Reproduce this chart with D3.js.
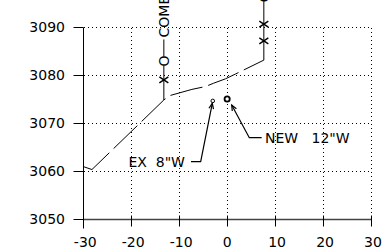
<!DOCTYPE html>
<html>
<head>
<meta charset="utf-8">
<script src="https://cdn.jsdelivr.net/npm/d3@7"></script>
<style>
  body { margin: 0; background: #fff; }
  svg { display: block; font-family: "DejaVu Sans", sans-serif; font-size: 14px; }
  .grid { stroke: #000; stroke-dasharray: 1,3; shape-rendering: crispEdges; }
</style>
</head>
<body>
<div id="chart"></div>
<script>
// Axis ticks
const xTicks = [-30, -20, -10, 0, 10, 20, 30];
const yTicks = [3050, 3060, 3070, 3080, 3090];

// Dashed profile line
const profileX = [-29.94, -28.2, -13.2, -12.0, -7.35, -4.5, -2.8, -0.35, 1.73, 7.65];
const profileY = [3060.9, 3060.3, 3074.8, 3075.7, 3077.0, 3077.6, 3078.3, 3079.2, 3080.2, 3083.1];

// Vertical leaders rising from the profile
const leaderX = [-13.2, 7.65];
const leaderFrom = [3074.8, 3083.1];
const leaderTo = [3087.4, 3097];
const leaderRing = [3082.9, 3096.3];   // "O" on each leader
const leaderText = ["COMBO", ""];

// x markers on the leaders
const markX = [-13.2, 7.65, 7.65];
const markY = [3079.0, 3087.1, 3090.6];

// Circled points with labels
const pointX = [-3.0, 0.0];
const pointY = [3074.6, 3075.0];
const pointR = [1.8, 2.6];
const pointLabel = ["EX  8\"W", "NEW   12\"W"];
const labelX = [-8.8, 7.9];
const labelY = [3061.94, 3066.94];
const elbowX = [-5.52, 4.62];
const startX = [-7.54, 7.2];
const tipX = [-3.1, 0.95];
const tipY = [3074.1, 3073.75];

const W = 384, H = 248;
const svg = d3.select("#chart").append("svg")
    .attr("width", W)
    .attr("height", H);

const x = d3.scaleLinear().domain([-30, 30]).range([83.3, 371]);
const y = d3.scaleLinear().domain([3050, 3090]).range([219, 27]);
const px = v => Math.round(x(v)) + 0.5;
const py = v => Math.round(y(v)) + 0.5;

// Grid (dotted)
svg.selectAll(".vgrid")
    .data(xTicks.slice(1))
    .enter().append("line")
    .attr("class", "grid")
    .attr("x1", d => px(d)).attr("x2", d => px(d))
    .attr("y1", py(3090)).attr("y2", py(3050));
svg.selectAll(".hgrid")
    .data(yTicks.slice(1))
    .enter().append("line")
    .attr("class", "grid")
    .attr("x1", px(-30)).attr("x2", px(30))
    .attr("y1", d => py(d)).attr("y2", d => py(d));

// Bottom axis
svg.append("line")
    .attr("x1", px(-30)).attr("x2", px(30))
    .attr("y1", py(3050)).attr("y2", py(3050))
    .attr("stroke", "#444").attr("stroke-width", 1.3);
svg.selectAll(".xtick")
    .data(xTicks)
    .enter().append("line")
    .attr("x1", d => px(d)).attr("x2", d => px(d))
    .attr("y1", py(3050) - 4).attr("y2", py(3050) + 7)
    .attr("stroke", "#000");
svg.selectAll(".xlab")
    .data(xTicks)
    .enter().append("text")
    .attr("x", d => x(d) + (d === 0 ? 0 : 2))
    .attr("y", 247)
    .attr("text-anchor", "middle")
    .text(d => String(d));

// Left axis
svg.append("line")
    .attr("x1", px(-30)).attr("x2", px(-30))
    .attr("y1", py(3090)).attr("y2", py(3050) + 9)
    .attr("stroke", "#000");
svg.selectAll(".ytick")
    .data(yTicks)
    .enter().append("line")
    .attr("x1", px(-30) - 10).attr("x2", px(-30))
    .attr("y1", d => py(d)).attr("y2", d => py(d))
    .attr("stroke", "#000");
svg.selectAll(".ylab")
    .data(yTicks)
    .enter().append("text")
    .attr("x", 65)
    .attr("y", d => y(d))
    .attr("dy", "0.36em")
    .attr("text-anchor", "end")
    .text(d => d);

// Profile line
const line = d3.line().x(d => x(d[0])).y(d => y(d[1]));
svg.append("path")
    .attr("d", line(profileX.map((v, i) => [v, profileY[i]])))
    .attr("fill", "none")
    .attr("stroke", "#000")
    .attr("stroke-dasharray", "33,6");

// Leaders
leaderX.forEach((lx, i) => {
    const cx = x(lx);
    const ringY = y(leaderRing[i]);
    svg.append("line")
        .attr("x1", cx).attr("x2", cx)
        .attr("y1", y(leaderFrom[i])).attr("y2", ringY + 4.5)
        .attr("stroke", "#000");
    if (leaderText[i]) {
        svg.append("line")
            .attr("x1", cx).attr("x2", cx)
            .attr("y1", ringY - 4.5).attr("y2", y(leaderTo[i]))
            .attr("stroke", "#000");
    }
    svg.append("text")
        .attr("transform", `translate(${cx},${ringY}) rotate(-90)`)
        .attr("text-anchor", "middle")
        .attr("dy", "0.36em")
        .text("O");
    if (leaderText[i]) {
        svg.append("text")
            .attr("transform", `translate(${cx},${y(leaderTo[i]) - 2}) rotate(-90)`)
            .attr("dy", "0.36em")
            .text(leaderText[i]);
    }
});

// x markers
svg.selectAll(".mark")
    .data(markX.map((v, i) => [v, markY[i]]))
    .enter().append("path")
    .attr("d", d => {
        const cx = x(d[0]), cy = y(d[1]);
        return `M${cx - 4.5},${cy - 3}L${cx + 4.5},${cy + 3}M${cx - 4.5},${cy + 3}L${cx + 4.5},${cy - 3}`;
    })
    .attr("stroke", "#000")
    .attr("stroke-width", 1.4)
    .attr("fill", "none");

// Circled points
svg.selectAll(".pt")
    .data(pointX)
    .enter().append("circle")
    .attr("cx", d => x(d))
    .attr("cy", (d, i) => y(pointY[i]))
    .attr("r", (d, i) => pointR[i])
    .attr("fill", "#fff")
    .attr("stroke", "#000")
    .attr("stroke-width", (d, i) => i === 1 ? 1.8 : 1);

// Labels with arrows
pointLabel.forEach((lab, i) => {
    const ly = y(labelY[i]);
    const pts = [[x(startX[i]), ly], [x(elbowX[i]), ly], [x(tipX[i]), y(tipY[i])]];
    svg.append("path")
        .attr("d", d3.line()(pts))
        .attr("fill", "none")
        .attr("stroke", "#000")
        .attr("stroke-width", 1.2);
    const [ex, ey] = pts[1], [tx, ty] = pts[2];
    const a = Math.atan2(ty - ey, tx - ex);
    const len = 6, spread = 0.4;
    const h1 = [tx - len * Math.cos(a - spread), ty - len * Math.sin(a - spread)];
    const h2 = [tx - len * Math.cos(a + spread), ty - len * Math.sin(a + spread)];
    svg.append("path")
        .attr("d", `M${h1[0]},${h1[1]}L${tx},${ty}L${h2[0]},${h2[1]}`)
        .attr("fill", "none")
        .attr("stroke", "#000")
        .attr("stroke-width", 1.2);
    svg.append("text")
        .attr("x", x(labelX[i]))
        .attr("y", ly)
        .attr("dy", "0.36em")
        .attr("text-anchor", i === 0 ? "end" : "start")
        .style("white-space", "pre")
        .text(lab);
});
</script>
</body>
</html>
